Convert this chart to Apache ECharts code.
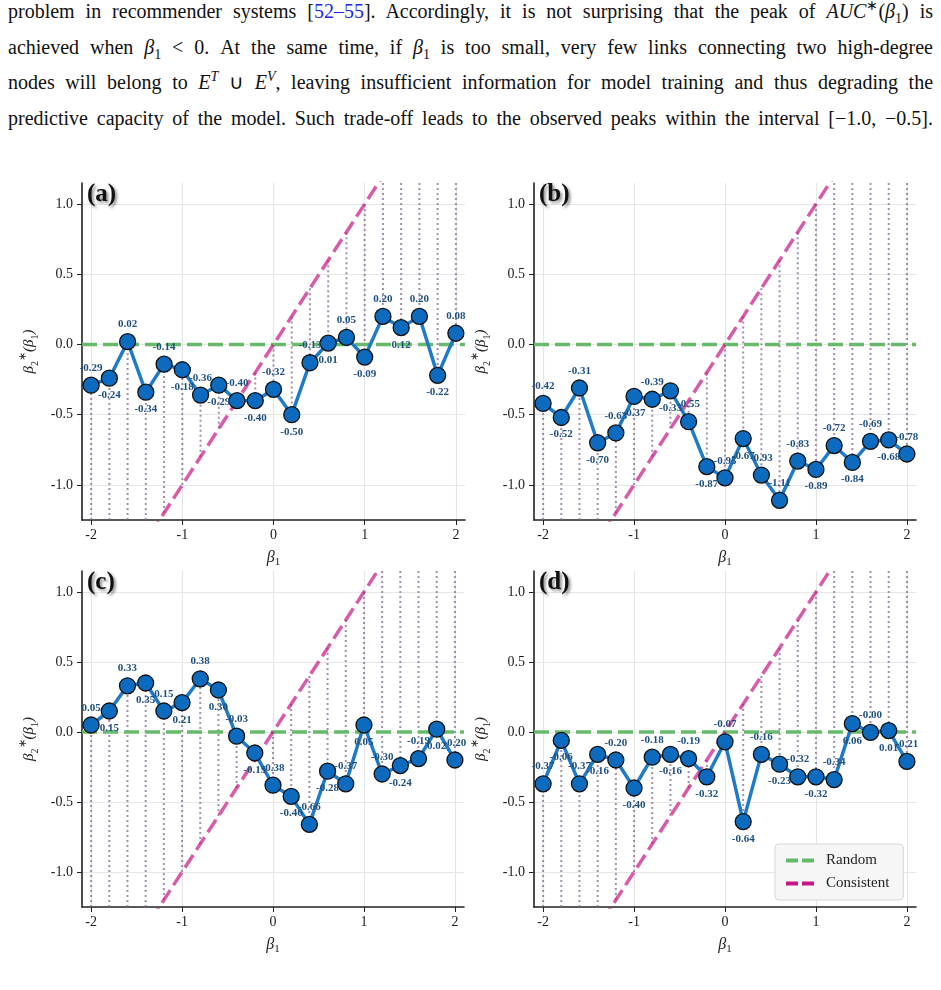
<!DOCTYPE html>
<html>
<head>
<meta charset="utf-8">
<script src="https://cdn.jsdelivr.net/npm/echarts@6/dist/echarts.min.js"></script>
<style>
  body { margin: 0; background: #fff; }
  #para {
    position: absolute; left: 8px; top: -6px; width: 925px;
    font-family: "Liberation Serif", serif; font-size: 20px; line-height: 35.5px; color: #111;
  }
  #para div { text-align: justify; text-align-last: justify; }
  #para sup, #para sub { font-size: 0.7em; line-height: 0; }
  #para .ref { color: #2222ee; }
  #chart { position: absolute; left: 0; top: 0; width: 941px; height: 990px; }
</style>
</head>
<body>
<div id="para">
  <div>problem in recommender systems [<span class="ref">52–55</span>]. Accordingly, it is not surprising that the peak of <i>AUC</i><sup>∗</sup>(<i>β</i><sub>1</sub>) is</div>
  <div>achieved when <i>β</i><sub>1</sub> &lt; 0. At the same time, if <i>β</i><sub>1</sub> is too small, very few links connecting two high-degree</div>
  <div>nodes will belong to <i>E</i><sup><i>T</i></sup> ∪ <i>E</i><sup><i>V</i></sup>, leaving insufficient information for model training and thus degrading the</div>
  <div>predictive capacity of the model. Such trade-off leads to the observed peaks within the interval [−1.0, −0.5].</div>
</div>
<div id="chart"></div>
<script>
// beta_1 grid and beta_2*(beta_1) for each panel
const beta1 = [-2.0, -1.8, -1.6, -1.4, -1.2, -1.0, -0.8, -0.6, -0.4, -0.2, 0.0, 0.2, 0.4, 0.6, 0.8, 1.0, 1.2, 1.4, 1.6, 1.8, 2.0];
const panelA = [-0.29, -0.24, 0.02, -0.34, -0.14, -0.18, -0.36, -0.29, -0.40, -0.40, -0.32, -0.50, -0.13, 0.01, 0.05, -0.09, 0.20, 0.12, 0.20, -0.22, 0.08];
const panelB = [-0.42, -0.52, -0.31, -0.70, -0.63, -0.37, -0.39, -0.33, -0.55, -0.87, -0.95, -0.67, -0.93, -1.11, -0.83, -0.89, -0.72, -0.84, -0.69, -0.68, -0.78];
const panelC = [0.05, 0.15, 0.33, 0.35, 0.15, 0.21, 0.38, 0.30, -0.03, -0.15, -0.38, -0.46, -0.66, -0.28, -0.37, 0.05, -0.30, -0.24, -0.19, 0.02, -0.20];
const panelD = [-0.37, -0.06, -0.37, -0.16, -0.20, -0.40, -0.18, -0.16, -0.19, -0.32, -0.07, -0.64, -0.16, -0.23, -0.32, -0.32, -0.34, 0.06, -0.003, 0.01, -0.21];
const panelNames = ['(a)', '(b)', '(c)', '(d)'];
const xMin = -2.1, xMax = 2.1, yMin = -1.25, yMax = 1.15;

const panels = [panelA, panelB, panelC, panelD];
const grids = [
  { left: 82, top: 183, width: 383, height: 337 },
  { left: 534, top: 183, width: 382, height: 337 },
  { left: 82, top: 571, width: 382, height: 336 },
  { left: 534, top: 571, width: 382, height: 336 }
];
const serif = '"Liberation Serif", "Times New Roman", serif';
const onTick = (v, step) => Math.abs(v / step - Math.round(v / step)) < 1e-6;

const chart = echarts.init(document.getElementById('chart'));

const xAxes = grids.map((g, i) => ({
  type: 'value', gridIndex: i, min: xMin, max: xMax, splitNumber: 4,
  name: '{b|β}{s|1}', nameLocation: 'middle', nameGap: 28,
  nameTextStyle: {
    rich: {
      b: { fontFamily: serif, fontStyle: 'italic', fontSize: 16, color: '#222', lineHeight: 20 },
      s: { fontFamily: serif, fontSize: 11, color: '#222', verticalAlign: 'bottom', lineHeight: 20 }
    }
  },
  axisLine: { onZero: false, lineStyle: { color: '#222', width: 1.6 } },
  axisTick: { show: true, length: 5, lineStyle: { color: '#222' } },
  axisLabel: {
    showMinLabel: false, showMaxLabel: false,
    formatter: v => (onTick(v, 1) ? String(Math.round(v)) : ''),
    fontFamily: serif, fontSize: 14, color: '#1a1a1a', margin: 8
  },
  splitLine: { show: true, showMinLine: false, showMaxLine: false, lineStyle: { color: '#e6e6e6', width: 1.2 } }
}));

const yAxes = grids.map((g, i) => ({
  type: 'value', gridIndex: i, min: yMin, max: yMax, splitNumber: 5,
  name: '{b|β}{s|2}{p|∗}{b|(β}{s|1}{b|)}', nameLocation: 'middle', nameGap: 42,
  nameTextStyle: {
    rich: {
      b: { fontFamily: serif, fontStyle: 'italic', fontSize: 15, color: '#222', lineHeight: 22 },
      s: { fontFamily: serif, fontSize: 10, color: '#222', verticalAlign: 'bottom', lineHeight: 22 },
      p: { fontFamily: serif, fontSize: 11, color: '#222', verticalAlign: 'top', lineHeight: 22 }
    }
  },
  axisLine: { show: true, onZero: false, lineStyle: { color: '#222', width: 1.6 } },
  axisTick: { show: true, length: 5, lineStyle: { color: '#222' } },
  axisLabel: {
    showMinLabel: false, showMaxLabel: false,
    formatter: v => (onTick(v, 0.5) ? v.toFixed(1) : ''),
    fontFamily: serif, fontSize: 14, color: '#1a1a1a', margin: 9
  },
  splitLine: { show: true, showMinLine: false, showMaxLine: false, lineStyle: { color: '#e6e6e6', width: 1.2 } }
}));

const series = [];
panels.forEach((vals, i) => {
  const pts = beta1.map((b, j) => [b, vals[j]]);
  // dotted drop lines between each point and the consistent line y = x
  series.push({
    type: 'custom', xAxisIndex: i, yAxisIndex: i, silent: true, z: 1,
    data: pts,
    renderItem: (params, api) => {
      const x = api.value(0), v = api.value(1);
      const c = Math.max(yMin, Math.min(yMax, x));
      const p1 = api.coord([x, c]), p2 = api.coord([x, v]);
      return {
        type: 'line',
        shape: { x1: p1[0], y1: p1[1], x2: p2[0], y2: p2[1] },
        style: { stroke: 'rgba(130,105,145,0.75)', lineWidth: 2, lineDash: [2, 3] }
      };
    }
  });
  series.push({
    type: 'line', name: 'Random', xAxisIndex: i, yAxisIndex: i, z: 2, silent: true,
    data: [[xMin, 0], [xMax, 0]], symbol: 'none',
    itemStyle: { color: '#66bb6a' },
    lineStyle: { color: '#66bb6a', width: 3.5, type: [15, 6] }
  });
  series.push({
    type: 'line', name: 'Consistent', xAxisIndex: i, yAxisIndex: i, z: 2, silent: true,
    data: [[xMin, xMin], [xMax, xMax]], symbol: 'none', clip: true,
    itemStyle: { color: '#c71585' },
    lineStyle: { color: '#c71585', opacity: 0.7, width: 3.5, type: [15, 6] }
  });
  series.push({
    type: 'line', name: 'beta2', xAxisIndex: i, yAxisIndex: i, z: 3,
    symbol: 'circle', symbolSize: 16, showAllSymbol: true,
    lineStyle: { color: '#1f7bc8', width: 3.5 },
    itemStyle: { color: '#0c6bbf', borderColor: '#111', borderWidth: 1.3 },
    label: {
      show: true, distance: 3, fontFamily: serif, fontWeight: 'bold', fontSize: 11, color: '#1e4f7e',
      formatter: p => p.value[1].toFixed(2)
    },
    data: pts.map((p, j) => {
      let pos = j % 2 === 0 ? 'top' : 'bottom';
      if (pos === 'bottom' && p[1] - 0.15 < yMin) pos = 'top';
      return { value: p, label: { position: pos } };
    })
  });
});

chart.setOption({
  animation: false,
  grid: grids,
  xAxis: xAxes,
  yAxis: yAxes,
  title: panelNames.map((t, i) => ({
    text: t, left: grids[i].left + 5, top: grids[i].top - 1, padding: 0,
    textStyle: {
      fontFamily: serif, fontWeight: 'bold', fontSize: 25, color: '#111',
      textShadowColor: 'rgba(0,0,0,0.45)', textShadowBlur: 3, textShadowOffsetX: 2, textShadowOffsetY: 2
    }
  })),
  legend: {
    data: ['Random', 'Consistent'], orient: 'vertical',
    left: 775, top: 844, padding: [9, 14, 9, 11], itemGap: 8,
    icon: 'path://M0,0H12V4H0ZM16,0H28V4H16Z',
    itemWidth: 28, itemHeight: 4,
    backgroundColor: '#f5f6f5', borderColor: '#d6d6d6', borderWidth: 1, borderRadius: 4,
    textStyle: { fontFamily: serif, fontSize: 15, color: '#222', padding: [0, 0, 0, 7] }
  },
  series: series
});
</script>
</body>
</html>
